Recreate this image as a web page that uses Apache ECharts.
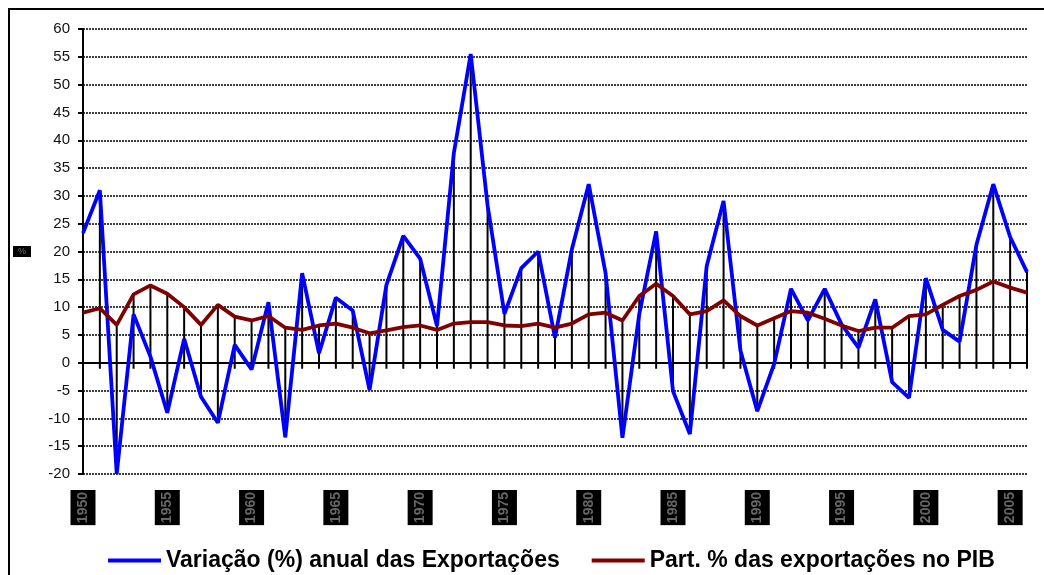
<!DOCTYPE html>
<html>
<head>
<meta charset="utf-8">
<script src="https://cdn.jsdelivr.net/npm/echarts@6/dist/echarts.min.js"></script>
<style>
  html, body { margin: 0; padding: 0; background: #fff; }
  #chart { width: 1044px; height: 575px; }
</style>
</head>
<body>
<div id="chart"></div>
<script>
// anos
var anos = [];
for (var a = 1950; a <= 2006; a++) anos.push(String(a));

// Variação (%) anual das Exportações
var variacao = [
  23.3, 31, -20, 8.7, 1.1, -9, 4.3, -6.1, -10.8, 3.2,
  -1.2, 10.9, -13.4, 16.1, 1.7, 11.7, 9.4, -4.9, 14, 22.8,
  18.7, 6.6, 37.7, 55.5, 28.3, 8.8, 17, 20, 4.5, 20.4,
  32.1, 16.1, -13.5, 8.8, 23.6, -5.1, -12.8, 17.4, 29.1, 2.2,
  -8.7, -0.2, 13.3, 7.6, 13.3, 6.9, 2.7, 11.4, -3.5, -6.3,
  15.2, 5.9, 3.8, 21.2, 32.1, 22.6, 16.3
];

// Part. % das exportações no PIB
var partPib = [
  9, 9.8, 6.8, 12.3, 13.9, 12.4, 10, 6.8, 10.4, 8.3,
  7.6, 8.4, 6.3, 5.9, 6.7, 7.05, 6.3, 5.3, 5.8, 6.4,
  6.7, 5.9, 7.05, 7.3, 7.3, 6.7, 6.6, 7.05, 6.3, 7.05,
  8.7, 9, 7.6, 12, 14.2, 12, 8.7, 9.3, 11.2, 8.4,
  6.7, 8, 9.3, 9, 7.9, 6.7, 5.7, 6.3, 6.3, 8.4,
  8.7, 10.4, 12, 13.1, 14.6, 13.5, 12.6
];

var nomes = ['Variação (%) anual das Exportações', 'Part. % das exportações no PIB'];

// linhas verticais (drop lines) por ano
var dropData = anos.map(function (y, i) { return [i, variacao[i], partPib[i]]; });

var myChart = echarts.init(document.getElementById('chart'));
var fonte = '"Liberation Sans", Arial, sans-serif';

var option = {
  animation: false,
  textStyle: { fontFamily: fonte },
  graphic: [{
    type: 'rect',
    shape: { x: 9, y: 9, width: 1100, height: 700 },
    style: { fill: 'none', stroke: '#000', lineWidth: 2 },
    silent: true
  }],
  grid: { left: 83, top: 29, right: 17, bottom: 101 },
  legend: {
    data: nomes,
    icon: 'rect',
    left: 103,
    top: 544,
    itemWidth: 53,
    itemHeight: 4,
    itemGap: 32,
    textStyle: { fontSize: 23, fontWeight: 'bold', color: '#000', fontFamily: fonte }
  },
  xAxis: [{
    type: 'category',
    data: anos,
    boundaryGap: false,
    position: 'bottom',
    axisLine: { onZero: true, lineStyle: { color: '#000', width: 2 } },
    axisTick: { show: false },
    axisLabel: { show: false },
    splitLine: { show: false }
  }, {
    type: 'category',
    data: anos,
    boundaryGap: false,
    position: 'bottom',
    axisLine: { show: false, onZero: false },
    axisTick: { show: false },
    axisLabel: {
      interval: 4,
      rotate: 90,
      margin: 16,
      fontSize: 14,
      lineHeight: 15,
      fontWeight: 'bold',
      color: '#666',
      backgroundColor: '#000',
      padding: [5, 2, 5, 2]
    },
    splitLine: { show: false }
  }],
  yAxis: {
    type: 'value',
    min: -20,
    max: 60,
    interval: 5,
    name: '%',
    nameLocation: 'middle',
    nameRotate: 0,
    nameGap: 52,
    nameTextStyle: { fontSize: 9, color: '#777', backgroundColor: '#000', padding: [1, 5] },
    axisLine: { show: true, lineStyle: { color: '#000', width: 2 } },
    axisTick: { show: true, length: 5, lineStyle: { color: '#000', width: 2 } },
    axisLabel: { fontSize: 15, color: '#111', margin: 13 },
    splitLine: { lineStyle: { color: '#000', width: 1.5, type: [2, 1] } }
  },
  series: [{
    name: 'drop',
    type: 'custom',
    xAxisIndex: 0,
    z: 1,
    silent: true,
    encode: { x: 0, y: [1, 2] },
    data: dropData,
    renderItem: function (params, api) {
      var i = api.value(0);
      var b = api.value(1), r = api.value(2);
      var topV = Math.max(b, r, 0);
      var botV = Math.min(b, r, 0);
      var pTop = api.coord([i, topV]);
      var pBot = api.coord([i, botV]);
      var y0 = api.coord([i, 0])[1];
      return {
        type: 'line',
        shape: { x1: pTop[0], y1: pTop[1], x2: pTop[0], y2: Math.max(pBot[1], y0 + 6) },
        style: { stroke: '#000', lineWidth: 2 }
      };
    }
  }, {
    name: nomes[0],
    type: 'line',
    xAxisIndex: 0,
    z: 3,
    data: variacao,
    symbol: 'none',
    color: '#0000ff',
    lineStyle: { color: '#0000ff', width: 3.8 }
  }, {
    name: nomes[1],
    type: 'line',
    xAxisIndex: 0,
    z: 4,
    data: partPib,
    symbol: 'none',
    color: '#800000',
    lineStyle: { color: '#800000', width: 3.8 }
  }]
};

myChart.setOption(option);
</script>
</body>
</html>
